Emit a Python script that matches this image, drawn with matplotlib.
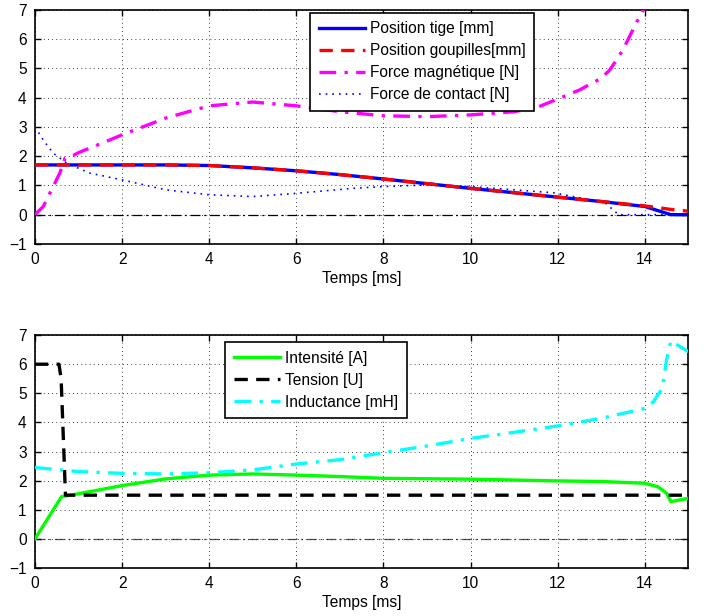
import matplotlib

matplotlib.use("Agg")

from matplotlib import pyplot as plt

plt.rcParams["font.family"] = ["Liberation Sans", "DejaVu Sans"]
plt.rcParams["font.size"] = 11.2

# top panel: mechanical quantities
t_tige = [0, 1, 2, 3, 4, 5, 6, 7, 8, 9, 10, 11, 12, 13, 14, 14.6, 15]
pos_tige = [1.7, 1.7, 1.7, 1.7, 1.68, 1.6, 1.5, 1.37, 1.22, 1.06, 0.9, 0.75, 0.6, 0.45, 0.28, 0.0, 0.0]
t_goup = [0, 1, 2, 3, 4, 5, 6, 7, 8, 9, 10, 11, 12, 13, 14, 14.6, 15]
pos_goup = [1.7, 1.7, 1.7, 1.7, 1.68, 1.6, 1.5, 1.37, 1.22, 1.06, 0.9, 0.75, 0.6, 0.45, 0.3, 0.18, 0.12]
t_fmag = [0, 0.19, 0.34, 0.57, 0.69, 0.85, 1.0, 1.5, 2, 3, 4, 5, 6, 7, 8, 9, 10, 11, 11.5, 12, 12.5, 13, 13.2, 13.5, 13.8, 14.0, 14.2]
f_mag = [0.0, 0.28, 0.73, 1.42, 1.93, 2.0, 2.12, 2.42, 2.73, 3.3, 3.72, 3.85, 3.72, 3.52, 3.38, 3.35, 3.41, 3.52, 3.65, 3.95, 4.26, 4.66, 4.95, 5.63, 6.54, 7.1, 7.6]
t_fcont = [0, 0.19, 0.42, 0.73, 1.26, 2, 3, 4, 5, 6, 7.3, 8, 9, 10, 11, 11.9, 12.6, 13.1, 13.4, 15]
f_cont = [3.0, 2.55, 2.1, 1.76, 1.42, 1.19, 0.85, 0.68, 0.62, 0.73, 0.9, 0.96, 1.02, 0.96, 0.85, 0.75, 0.55, 0.39, 0.0, 0.0]

# bottom panel: electrical quantities
t_int = [0, 0.61, 1, 2, 3, 4, 5, 6, 7, 8, 10, 12, 13, 14, 14.3, 14.5, 14.6, 15]
intensite = [0.0, 1.45, 1.55, 1.83, 2.06, 2.19, 2.23, 2.19, 2.14, 2.08, 2.05, 1.99, 1.97, 1.91, 1.79, 1.57, 1.28, 1.39]
t_tens = [0, 0.55, 0.6, 0.7, 15]
tension = [6.0, 6.0, 5.5, 1.5, 1.5]
t_ind = [0, 1, 2, 3, 4, 5, 6, 7, 8, 9, 10, 11, 12, 13, 14, 14.2, 14.4, 14.5, 14.6, 15]
inductance = [2.45, 2.31, 2.25, 2.23, 2.27, 2.37, 2.57, 2.72, 2.96, 3.19, 3.45, 3.66, 3.88, 4.14, 4.48, 4.71, 5.17, 6.14, 6.8, 6.43]

xticks = [0, 2, 4, 6, 8, 10, 12, 14]
yticks = [-1, 0, 1, 2, 3, 4, 5, 6, 7]


def style_axes(ax, zero_color):
    ax.axhline(0, color=zero_color, linewidth=0.9, linestyle=(0, (8, 3, 1.5, 3)), zorder=1)
    ax.set_xlim(0, 15)
    ax.set_ylim(-1, 7)
    ax.set_xticks(xticks)
    ax.set_yticks(yticks)
    ax.grid(True, color="black", linestyle=(0, (1, 4)), linewidth=0.6)
    ax.tick_params(direction="in", top=True, right=True, length=4, width=1.0, pad=6)
    for spine in ax.spines.values():
        spine.set_linewidth(1.2)
    ax.set_xlabel("Temps [ms]", labelpad=3)


def add_legend(ax, anchor):
    leg = ax.legend(loc="upper left", bbox_to_anchor=anchor, handlelength=3.0,
                    fancybox=False, framealpha=1, edgecolor="black", borderpad=0.55,
                    labelspacing=0.45, handletextpad=0.3, borderaxespad=0)
    leg.get_frame().set_linewidth(1.2)
    return leg


fig = plt.figure(figsize=(7.04, 6.16), dpi=100)
ax1 = fig.add_axes([0.0497, 0.604, 0.928, 0.380])
ax2 = fig.add_axes([0.0497, 0.078, 0.928, 0.378])

style_axes(ax1, "black")
ax1.plot(t_tige, pos_tige, color="#0000ff", linewidth=2.4, label="Position tige [mm]", zorder=3)
ax1.plot(t_goup, pos_goup, color="#ff0000", linewidth=2.4, linestyle=(0, (4, 2.5)), label="Position goupilles[mm]", zorder=4)
ax1.plot(t_fmag, f_mag, color="#ff00ff", linewidth=2.4, linestyle=(0, (5, 2.5, 1, 2.5)), label="Force magnétique [N]", zorder=3)
ax1.plot(t_fcont, f_cont, color="#0000ff", linewidth=1.2, linestyle=(0, (1, 3)), label="Force de contact [N]", zorder=3)
add_legend(ax1, (0.421, 0.987))

style_axes(ax2, "#555555")
ax2.plot(t_int, intensite, color="#00ff00", linewidth=2.4, label="Intensité [A]", zorder=3)
ax2.plot(t_tens, tension, color="black", linewidth=2.4, linestyle=(0, (4, 2.5)), label="Tension [U]", zorder=4)
ax2.plot(t_ind, inductance, color="#00ffff", linewidth=2.4, linestyle=(0, (5, 2.5, 1, 2.5)), label="Inductance [mH]", zorder=3)
add_legend(ax2, (0.291, 0.970))

fig.savefig("out.png", dpi=100)
